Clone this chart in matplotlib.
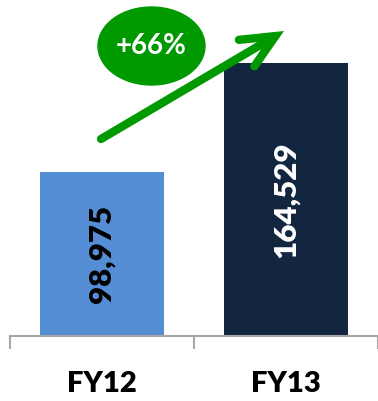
import matplotlib
matplotlib.use("Agg")
import matplotlib.pyplot as plt
from matplotlib.patches import Ellipse, FancyArrowPatch

categories = ["FY12", "FY13"]
values = [98975, 164529]
value_labels = ["98,975", "164,529"]
growth_label = "+66%"

bar_colors = ["#558ED5", "#12263F"]
label_colors = ["black", "white"]
green = "#009A00"

W, H = 378, 401
fig = plt.figure(figsize=(W / 100, H / 100), dpi=100)
plt.rcParams['font.family'] = ['Lato', 'DejaVu Sans']

# main axes in pixel layout
left, right, bottom_px = 10, 378, 336
ax = fig.add_axes([left / W, (H - bottom_px) / H, (right - left) / W, bottom_px / H])
ymax = values[1] * bottom_px / 273
ax.set_ylim(0, ymax)
ax.set_xlim(-0.5, 1.5)
x = list(range(len(categories)))
ax.bar(x, values, width=0.67, color=bar_colors, zorder=2)
for xi, v, lab, c in zip(x, values, value_labels, label_colors):
    ax.text(xi, v / 2, lab, rotation=90, ha="center", va="center",
            color=c, fontsize=22.5, fontweight="heavy")

for s in ["top", "right", "left"]:
    ax.spines[s].set_visible(False)
ax.spines["bottom"].set_color("#a6a6a6")
ax.spines["bottom"].set_linewidth(1.5)
ax.set_yticks([])
ax.set_xticks([-0.5, 0.5, 1.5])
ax.set_xticklabels([])
ax.tick_params(axis="x", direction="out", length=9, width=1.5, color="#a6a6a6")
for xi, cat in zip(x, categories):
    ax.text(xi, -0.143, cat, transform=ax.get_xaxis_transform(), ha="center", va="center",
            fontsize=21, fontweight="heavy", color="black")

# overlay for decorations
ov = fig.add_axes([0, 0, 1, 1], facecolor="none")
ov.set_xlim(0, W)
ov.set_ylim(H, 0)
ov.axis("off")
arrow = FancyArrowPatch((101, 139), (284, 31),
                        arrowstyle="->,head_length=1.2,head_width=0.55",
                        color=green, linewidth=6, capstyle="round",
                        joinstyle="miter", mutation_scale=20,
                        shrinkA=0, shrinkB=0)
ov.add_patch(arrow)
ov.add_patch(Ellipse((151.5, 46), 107, 78, color=green, zorder=3))
ov.text(151.5, 46, growth_label, ha="center", va="center", color="white",
        fontsize=20, fontweight="bold", zorder=4)

fig.savefig("out.png", dpi=100)
